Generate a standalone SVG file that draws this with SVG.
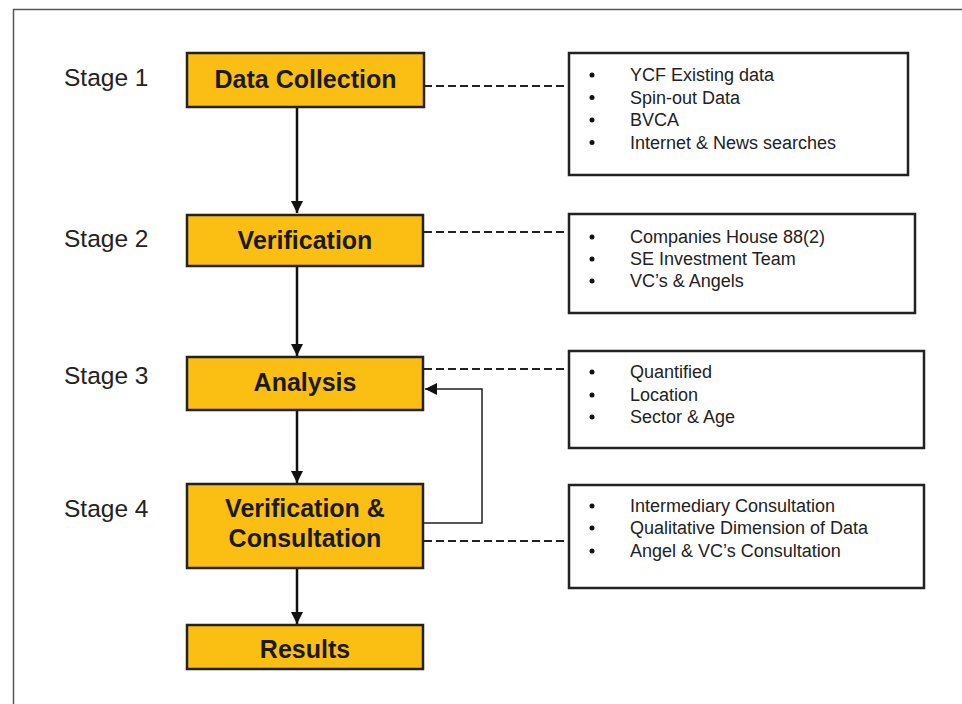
<svg xmlns="http://www.w3.org/2000/svg" width="962" height="704" viewBox="0 0 962 704">
<style>
.stage{font-family:"Liberation Sans",Arial,sans-serif;font-size:24.5px;fill:#222}
.box{fill:#FBBF14;stroke:#222;stroke-width:2.5}
.btxt{font-family:"Liberation Sans",Arial,sans-serif;font-size:25px;font-weight:bold;fill:#1a1a1a;text-anchor:middle}
.note{fill:#fff;stroke:#222;stroke-width:2.5}
.ntxt{font-family:"Liberation Sans",Arial,sans-serif;font-size:18px;fill:#222}
.dot{fill:#111}
.flow{stroke:#111;stroke-width:2.5;fill:none}
.dash{stroke:#222;stroke-width:2.2;stroke-dasharray:8,4;fill:none}
.fb{stroke:#222;stroke-width:1.5;fill:none}
</style>
<defs>
<marker id="ah" viewBox="0 0 10 10" refX="10" refY="5" markerWidth="5" markerHeight="5" markerUnits="strokeWidth" orient="auto">
<path d="M0,0 L10,5 L0,10 Z" fill="#111"/>
</marker>
<marker id="ahs" viewBox="0 0 10 10" refX="10" refY="5" markerWidth="8" markerHeight="8" markerUnits="strokeWidth" orient="auto">
<path d="M0,0 L10,5 L0,10 Z" fill="#111"/>
</marker>
</defs>
<rect x="13.5" y="9.5" width="960" height="700" fill="#fff" stroke="#555" stroke-width="1.5"/>
<g id="labels">
<text class="stage" x="64" y="86">Stage 1</text>
<text class="stage" x="64" y="247">Stage 2</text>
<text class="stage" x="64" y="384">Stage 3</text>
<text class="stage" x="64" y="517">Stage 4</text>
</g>
<g id="connectors">
<line class="flow" x1="297" y1="107" x2="297" y2="213" marker-end="url(#ah)"/>
<line class="flow" x1="297" y1="266" x2="297" y2="356" marker-end="url(#ah)"/>
<line class="flow" x1="297" y1="410" x2="297" y2="483" marker-end="url(#ah)"/>
<line class="flow" x1="297" y1="568" x2="297" y2="624" marker-end="url(#ah)"/>
<path class="fb" d="M424,523 H482 V389 H425" marker-end="url(#ahs)"/>
<line class="dash" x1="424" y1="86" x2="569" y2="86"/>
<line class="dash" x1="424" y1="232" x2="569" y2="232"/>
<line class="dash" x1="424" y1="369" x2="569" y2="369"/>
<line class="dash" x1="424" y1="541" x2="569" y2="541"/>
</g>
<g id="n1"><rect class="box" x="187" y="53" width="237" height="54"/><text class="btxt" x="305.5" y="88">Data Collection</text></g>
<g id="n2"><rect class="box" x="187" y="215" width="236" height="51"/><text class="btxt" x="305" y="249">Verification</text></g>
<g id="n3"><rect class="box" x="187" y="357" width="236" height="53"/><text class="btxt" x="305" y="391">Analysis</text></g>
<g id="n4"><rect class="box" x="187" y="484" width="236" height="84"/><text class="btxt" x="305" y="517">Verification &amp;</text><text class="btxt" x="305" y="547">Consultation</text></g>
<g id="n5"><rect class="box" x="187" y="625" width="236" height="44"/><text class="btxt" x="305" y="658">Results</text></g>
<g id="note1">
<rect class="note" x="569" y="53" width="339" height="122"/>
<circle class="dot" cx="592" cy="75" r="2.5"/><text class="ntxt" x="630" y="81">YCF Existing data</text>
<circle class="dot" cx="592" cy="97.5" r="2.5"/><text class="ntxt" x="630" y="103.5">Spin-out Data</text>
<circle class="dot" cx="592" cy="120" r="2.5"/><text class="ntxt" x="630" y="126">BVCA</text>
<circle class="dot" cx="592" cy="142.5" r="2.5"/><text class="ntxt" x="630" y="148.5">Internet &amp; News searches</text>
</g>
<g id="note2">
<rect class="note" x="569" y="214" width="346" height="99"/>
<circle class="dot" cx="592" cy="237" r="2.5"/><text class="ntxt" x="630" y="243">Companies House 88(2)</text>
<circle class="dot" cx="592" cy="259" r="2.5"/><text class="ntxt" x="630" y="265">SE Investment Team</text>
<circle class="dot" cx="592" cy="281" r="2.5"/><text class="ntxt" x="630" y="287">VC’s &amp; Angels</text>
</g>
<g id="note3">
<rect class="note" x="569" y="351" width="355" height="97"/>
<circle class="dot" cx="592" cy="372" r="2.5"/><text class="ntxt" x="630" y="378">Quantified</text>
<circle class="dot" cx="592" cy="395" r="2.5"/><text class="ntxt" x="630" y="401">Location</text>
<circle class="dot" cx="592" cy="417" r="2.5"/><text class="ntxt" x="630" y="423">Sector &amp; Age</text>
</g>
<g id="note4">
<rect class="note" x="569" y="485" width="355" height="103"/>
<circle class="dot" cx="592" cy="506" r="2.5"/><text class="ntxt" x="630" y="512">Intermediary Consultation</text>
<circle class="dot" cx="592" cy="528" r="2.5"/><text class="ntxt" x="630" y="534">Qualitative Dimension of Data</text>
<circle class="dot" cx="592" cy="551" r="2.5"/><text class="ntxt" x="630" y="557">Angel &amp; VC’s Consultation</text>
</g>
</svg>
